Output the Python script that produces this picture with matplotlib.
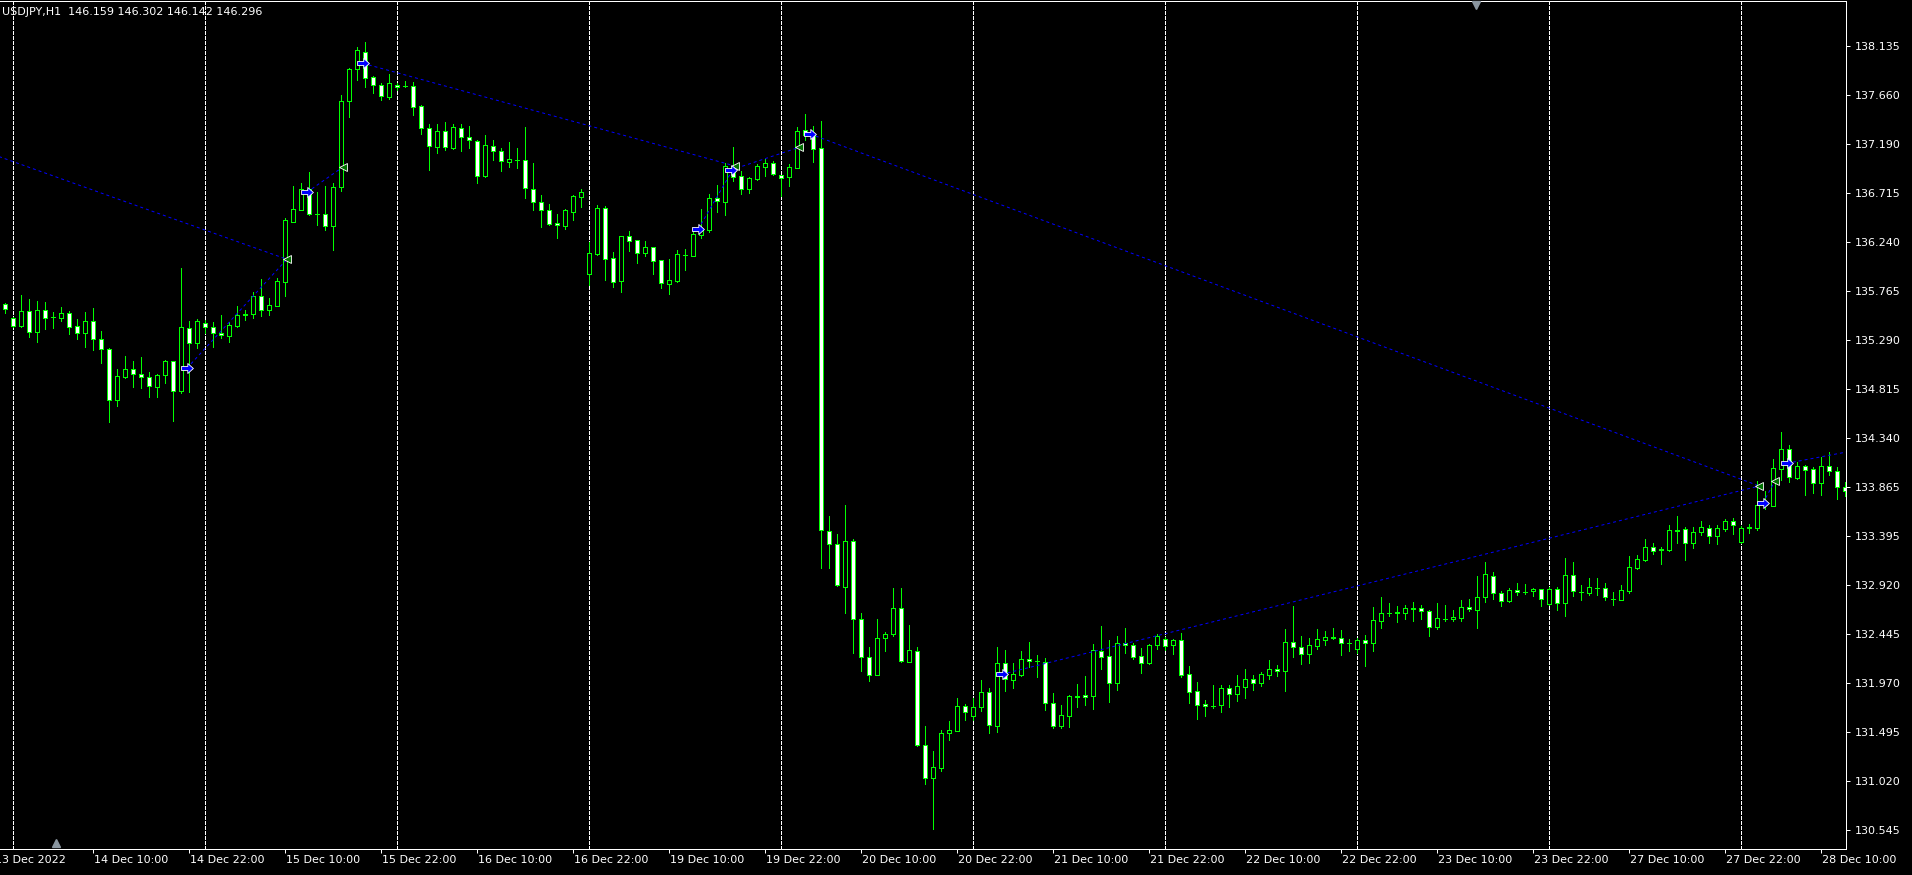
import matplotlib
matplotlib.use("Agg")
import matplotlib.pyplot as plt
import numpy as np
from matplotlib.path import Path

plt.rcParams['lines.scale_dashes'] = False
plt.rcParams['font.family'] = ['DejaVu Sans']

# ---------------- data ----------------
header_text = "USDJPY,H1  146.159 146.302 146.142 146.296"

# hourly bars, index 0 = 13 Dec 2022 23:00 ... index 230 = 28 Dec 13:00
opens = [
 135.637,135.501,135.427,135.569,135.372,135.579,135.511,135.508,135.549,135.424,
 135.362,135.472,135.298,135.201,134.714,134.936,135.007,134.959,134.930,134.840,
 134.949,135.085,134.794,135.404,135.259,135.453,135.414,135.359,135.333,135.430,
 135.533,135.540,135.714,135.585,135.624,135.857,136.437,136.554,136.757,136.515,
 136.508,136.399,136.770,137.602,137.912,138.077,137.835,137.757,137.648,137.757,
 137.748,137.748,137.554,137.341,137.164,137.312,137.151,137.341,137.254,137.215,
 136.876,137.173,137.118,137.018,137.038,137.031,136.757,136.625,136.547,136.421,
 136.399,136.534,136.679,135.934,136.124,136.566,136.082,135.863,136.295,136.257,
 136.134,136.189,136.063,135.837,135.866,136.111,136.108,136.311,136.360,136.663,
 136.631,136.973,136.876,136.757,136.854,136.970,137.002,136.886,136.873,136.960,
 137.322,137.273,137.147,133.444,133.321,132.905,133.344,132.590,132.220,132.051,
 132.403,132.444,132.695,132.175,132.280,131.375,131.055,131.151,131.485,131.508,
 131.745,131.655,131.742,131.881,131.558,132.162,132.004,132.052,132.200,132.181,
 132.178,131.774,131.558,131.655,131.832,131.852,131.849,132.281,132.229,131.968,
 132.355,132.336,132.229,132.162,132.342,132.394,132.336,132.384,132.055,131.891,
 131.765,131.752,131.761,131.920,131.868,131.936,132.007,131.974,132.052,132.104,
 132.084,132.365,132.317,132.255,132.333,132.391,132.410,132.403,132.361,132.303,
 132.384,132.361,132.574,132.652,132.655,132.652,132.694,132.694,132.665,132.516,
 132.594,132.587,132.603,132.703,132.681,132.800,133.003,132.839,132.765,132.868,
 132.852,132.858,132.878,132.739,132.878,132.748,133.013,132.852,132.845,132.890,
 132.890,132.787,132.778,132.865,133.087,133.162,133.284,133.265,133.262,133.449,
 133.458,133.329,133.429,133.475,133.391,133.465,133.536,133.339,133.471,133.475,
 133.720,133.688,134.046,134.233,133.959,134.068,134.039,133.904,134.068,134.026,
 133.865]

highs = [
 135.646,135.517,135.727,135.688,135.669,135.659,135.562,135.611,135.569,135.495,
 135.562,135.601,135.378,135.214,135.011,135.136,135.088,135.124,134.982,134.965,
 135.098,135.091,135.988,135.475,135.491,135.485,135.469,135.533,135.462,135.620,
 135.582,135.753,135.882,135.698,135.888,136.470,136.783,136.809,136.915,136.721,
 136.783,136.809,137.664,137.928,138.125,138.177,137.844,137.777,137.867,137.783,
 137.799,137.790,137.567,137.380,137.380,137.402,137.380,137.380,137.360,137.228,
 137.273,137.225,137.147,137.205,137.151,137.351,137.002,136.696,136.608,136.512,
 136.560,136.692,136.754,136.244,136.599,136.589,136.140,136.302,136.347,136.263,
 136.250,136.195,136.070,136.076,136.163,136.173,136.347,136.560,136.705,136.792,
 137.002,137.160,136.928,136.867,136.996,137.044,137.028,136.892,136.996,137.354,
 137.480,137.363,137.412,133.591,133.412,133.696,133.367,132.645,132.316,132.590,
 132.462,132.892,132.892,132.535,132.316,131.558,131.311,131.517,131.603,131.823,
 131.768,131.823,132.000,131.923,132.317,132.291,132.165,132.281,132.368,132.242,
 132.213,131.874,131.758,131.855,131.962,132.039,132.349,132.523,132.388,132.426,
 132.500,132.362,132.310,132.349,132.446,132.420,132.400,132.452,132.136,131.981,
 131.807,131.952,131.949,131.952,132.049,132.107,132.045,132.078,132.194,132.145,
 132.491,132.717,132.426,132.404,132.491,132.478,132.500,132.484,132.393,132.403,
 132.435,132.707,132.803,132.745,132.716,132.723,132.755,132.726,132.674,132.745,
 132.726,132.677,132.774,132.784,133.003,133.142,133.045,132.861,132.887,132.939,
 132.929,132.890,132.881,132.897,132.897,133.181,133.142,132.919,132.987,132.987,
 132.939,132.852,132.916,133.200,133.207,133.365,133.323,133.287,133.500,133.587,
 133.481,133.481,133.539,133.500,133.497,133.559,133.568,133.491,133.513,133.926,
 133.830,134.136,134.401,134.272,134.110,134.078,134.065,134.162,134.207,134.059,
 133.920]

lows = [
 135.556,135.414,135.420,135.324,135.275,135.398,135.411,135.478,135.353,135.301,
 135.227,135.194,135.072,134.501,134.656,134.927,134.840,134.823,134.743,134.743,
 134.872,134.510,134.781,134.791,135.217,135.356,135.227,135.314,135.275,135.420,
 135.485,135.508,135.524,135.533,135.620,135.721,136.430,136.550,136.502,136.405,
 136.357,136.163,136.738,137.454,137.809,137.744,137.683,137.619,137.628,137.712,
 137.738,137.473,137.289,136.941,137.102,137.135,137.141,137.125,137.154,136.815,
 136.873,137.034,136.931,136.967,136.957,136.670,136.547,136.389,136.405,136.279,
 136.370,136.453,136.583,135.824,136.115,135.873,135.808,135.760,136.153,136.040,
 136.108,135.931,135.798,135.740,135.856,135.969,136.105,136.282,136.341,136.534,
 136.502,136.831,136.705,136.715,136.841,136.879,136.886,136.686,136.783,136.954,
 137.228,137.018,133.084,133.084,132.910,132.645,132.266,132.088,131.987,132.045,
 132.284,132.430,132.170,132.170,131.357,130.991,130.557,131.115,131.416,131.503,
 131.617,131.613,131.703,131.490,131.500,131.897,131.926,132.042,132.129,132.033,
 131.710,131.539,131.539,131.548,131.739,131.761,131.723,132.110,131.791,131.907,
 132.265,132.207,132.071,132.158,132.297,132.291,132.252,132.033,131.781,131.626,
 131.655,131.732,131.690,131.739,131.800,131.826,131.907,131.945,132.013,132.042,
 131.897,132.226,132.158,132.168,132.304,132.342,132.397,132.242,132.281,132.258,
 132.139,132.284,132.506,132.623,132.565,132.587,132.574,132.590,132.429,132.494,
 132.574,132.574,132.574,132.665,132.506,132.758,132.784,132.719,132.758,132.826,
 132.836,132.813,132.716,132.726,132.681,132.623,132.816,132.774,132.826,132.823,
 132.778,132.726,132.775,132.842,133.078,133.152,133.220,133.126,133.249,133.329,
 133.162,133.278,133.404,133.329,133.320,133.442,133.413,133.329,133.420,133.452,
 133.652,133.685,133.936,133.914,133.949,133.791,133.807,133.791,133.985,133.749,
 133.781]

closes = [
 135.588,135.430,135.569,135.372,135.579,135.508,135.510,135.553,135.420,135.362,
 135.472,135.298,135.201,134.707,134.940,135.007,134.959,134.930,134.843,134.949,
 135.088,134.794,135.414,135.259,135.472,135.414,135.356,135.337,135.433,135.530,
 135.543,135.714,135.585,135.627,135.859,136.450,136.557,136.757,136.515,136.512,
 136.399,136.770,137.602,137.912,138.096,137.832,137.757,137.651,137.777,137.738,
 137.746,137.551,137.341,137.167,137.312,137.157,137.351,137.254,137.225,136.876,
 137.176,137.118,137.022,137.041,137.036,136.760,136.631,136.547,136.418,136.402,
 136.547,136.683,136.721,136.131,136.566,136.079,135.856,136.295,136.253,136.137,
 136.189,136.060,135.840,135.869,136.121,136.113,136.315,136.363,136.663,136.634,
 136.973,136.873,136.757,136.857,136.973,137.002,136.896,136.863,136.963,137.312,
 137.273,137.144,133.449,133.321,132.915,133.344,132.590,132.220,132.047,132.407,
 132.444,132.695,132.188,132.289,131.375,131.055,131.156,131.485,131.512,131.745,
 131.686,131.739,131.881,131.568,132.162,132.007,132.055,132.200,132.181,132.183,
 131.774,131.558,131.658,131.842,131.845,131.832,132.287,132.226,131.968,132.355,
 132.336,132.226,132.162,132.336,132.429,132.333,132.384,132.052,131.887,131.761,
 131.745,131.750,131.920,131.868,131.939,132.007,131.974,132.055,132.104,132.084,
 132.365,132.323,132.255,132.336,132.394,132.413,132.413,132.361,132.359,132.384,
 132.361,132.577,132.648,132.650,132.653,132.694,132.692,132.665,132.510,132.597,
 132.592,132.606,132.703,132.684,132.800,133.023,132.839,132.768,132.868,132.848,
 132.850,132.881,132.781,132.878,132.748,133.013,132.858,132.850,132.897,132.888,
 132.800,132.785,132.868,133.091,133.168,133.284,133.252,133.263,133.449,133.447,
 133.329,133.429,133.478,133.394,133.468,133.536,133.497,133.468,133.478,133.691,
 133.694,134.049,134.233,133.962,134.068,134.036,133.904,134.068,134.026,133.865,
 133.826]

# time-axis labels (bar index where each label sits)
time_label_idx = [-1.4, 11, 23, 35, 47, 59, 71, 83, 95, 107, 119, 131, 143, 155,
                  167, 179, 191, 203, 215, 227]
time_label_txt = ["13 Dec 2022", "14 Dec 10:00", "14 Dec 22:00", "15 Dec 10:00",
                  "15 Dec 22:00", "16 Dec 10:00", "16 Dec 22:00", "19 Dec 10:00",
                  "19 Dec 22:00", "20 Dec 10:00", "20 Dec 22:00", "21 Dec 10:00",
                  "21 Dec 22:00", "22 Dec 10:00", "22 Dec 22:00", "23 Dec 10:00",
                  "23 Dec 22:00", "27 Dec 10:00", "27 Dec 22:00", "28 Dec 10:00"]
# day separators (bar index of 00:00 of each day)
day_start_idx = [1, 25, 49, 73, 97, 121, 145, 169, 193, 217]

price_ticks = [138.135, 137.660, 137.190, 136.715, 136.240, 135.765, 135.290,
               134.815, 134.340, 133.865, 133.395, 132.920, 132.445, 131.970,
               131.495, 131.020, 130.545]
price_tick_txt = ["138.135", "137.660", "137.190", "136.715", "136.240", "135.765",
                  "135.290", "134.815", "134.340", "133.865", "133.395", "132.920",
                  "132.445", "131.970", "131.495", "131.020", "130.545"]

# signal objects (bar index, price)
arrow_idx = [22.7, 37.7, 44.7, 86.6, 90.7, 100.6, 124.55, 219.7, 222.7]
arrow_px = [135.018, 136.721, 137.970, 136.363, 136.937, 137.286, 132.055, 133.711, 134.098]
tri_idx = [35.2, 42.25, 91.2, 99.25, 219.25, 221.2]
tri_px = [136.073, 136.969, 136.976, 137.157, 133.878, 133.927]
# dotted trend lines: (start idx, start price, end idx, end price)
trend_start_idx = [-1.0, 22.7, 37.7, 44.7, 86.6, 90.7, 100.6, 124.55, 219.7, 222.7]
trend_start_px = [137.073, 135.018, 136.721, 137.970, 136.363, 136.937, 137.286, 132.055, 133.711, 134.098]
trend_end_idx = [35.2, 35.2, 42.25, 91.2, 91.2, 99.25, 219.25, 219.25, 221.2, 232.0]
trend_end_px = [136.073, 136.073, 136.969, 136.976, 136.976, 137.157, 133.878, 133.878, 133.927, 134.234]

# ---------------- figure ----------------
W, H = 1912, 875
fig = plt.figure(figsize=(W / 100, H / 100), dpi=100, facecolor='black')
ax = fig.add_axes([0, 26 / H, 1846 / W, 848.5 / H])
ax.set_facecolor('black')

ax.set_xlim(-5.3 / 8, (1846 - 5.3) / 8)
ax.set_ylim(130.364, 138.578)

LIME = '#00FF00'
PX = 0.72  # one pixel in points

# day separators
for d in day_start_idx:
    ax.axvline(d, color='white', lw=PX, dashes=(2.16, 1.44), zorder=1, antialiased=False)

O = np.array(opens); Hh = np.array(highs); L = np.array(lows); C = np.array(closes)
x = np.arange(len(O))
bull = C >= O
ax.vlines(x, L, Hh, color=LIME, lw=PX, zorder=2, antialiased=False)
ax.bar(x, np.abs(C - O), bottom=np.minimum(O, C), width=0.5,
       color=np.where(bull, 'black', 'white'), edgecolor=LIME, linewidth=PX,
       zorder=3, antialiased=False)

# dotted trend lines
for x0, y0, x1, y1 in zip(trend_start_idx, trend_start_px, trend_end_idx, trend_end_px):
    ax.plot([x0, x1], [y0, y1], color='#0000FF', lw=PX, dashes=(2.16, 2.16), zorder=4)

# arrow markers
arrow_path = Path([(-1, -0.35), (0.05, -0.35), (0.05, -0.85), (1, 0), (0.05, 0.85),
                   (0.05, 0.35), (-1, 0.35), (-1, -0.35)],
                  [Path.MOVETO] + [Path.LINETO] * 6 + [Path.CLOSEPOLY])
ax.plot(arrow_idx, arrow_px, linestyle='none', marker=arrow_path, markersize=8.5,
        markerfacecolor='#0000FF', markeredgecolor='white', markeredgewidth=0.6, zorder=6)
ax.plot(tri_idx, tri_px, linestyle='none', marker='<', markersize=5.5,
        markerfacecolor='#007000', markeredgecolor='white', markeredgewidth=0.6, zorder=5)

# spines
for s in ['top', 'right', 'bottom']:
    ax.spines[s].set_color('white')
    ax.spines[s].set_linewidth(PX)
ax.spines['left'].set_visible(False)

# price axis
ax.yaxis.tick_right()
ax.set_yticks(price_ticks)
ax.set_yticklabels(price_tick_txt)
ax.tick_params(axis='y', colors='white', length=3, width=PX, pad=3, labelsize=8,
               direction='out')

# time axis
ax.set_xticks([t for t in time_label_idx if t >= 0])
ax.set_xticklabels([])
ax.tick_params(axis='x', colors='white', length=3, width=PX, direction='out')
for t, s in zip(time_label_idx, time_label_txt):
    ax.annotate(s, xy=(t, 0), xycoords=('data', 'axes fraction'), xytext=(1, -11),
                textcoords='offset pixels', color='white', fontsize=8, ha='left',
                va='center', annotation_clip=False)

# header
fig.text(2 / W, 1 - 12 / H, header_text, color='white', fontsize=8, ha='left', va='center')

# chart shift markers
ax.plot([56 / 1846], [6 / 848.5], marker='^', markersize=6, color='#8a96a0',
        transform=ax.transAxes, clip_on=False, zorder=7)
ax.plot([1475.5 / 1846], [1 - 4 / 848.5], marker='v', markersize=6, color='#8a96a0',
        transform=ax.transAxes, clip_on=False, zorder=7)

fig.savefig('out.png', dpi=100, facecolor='black')
